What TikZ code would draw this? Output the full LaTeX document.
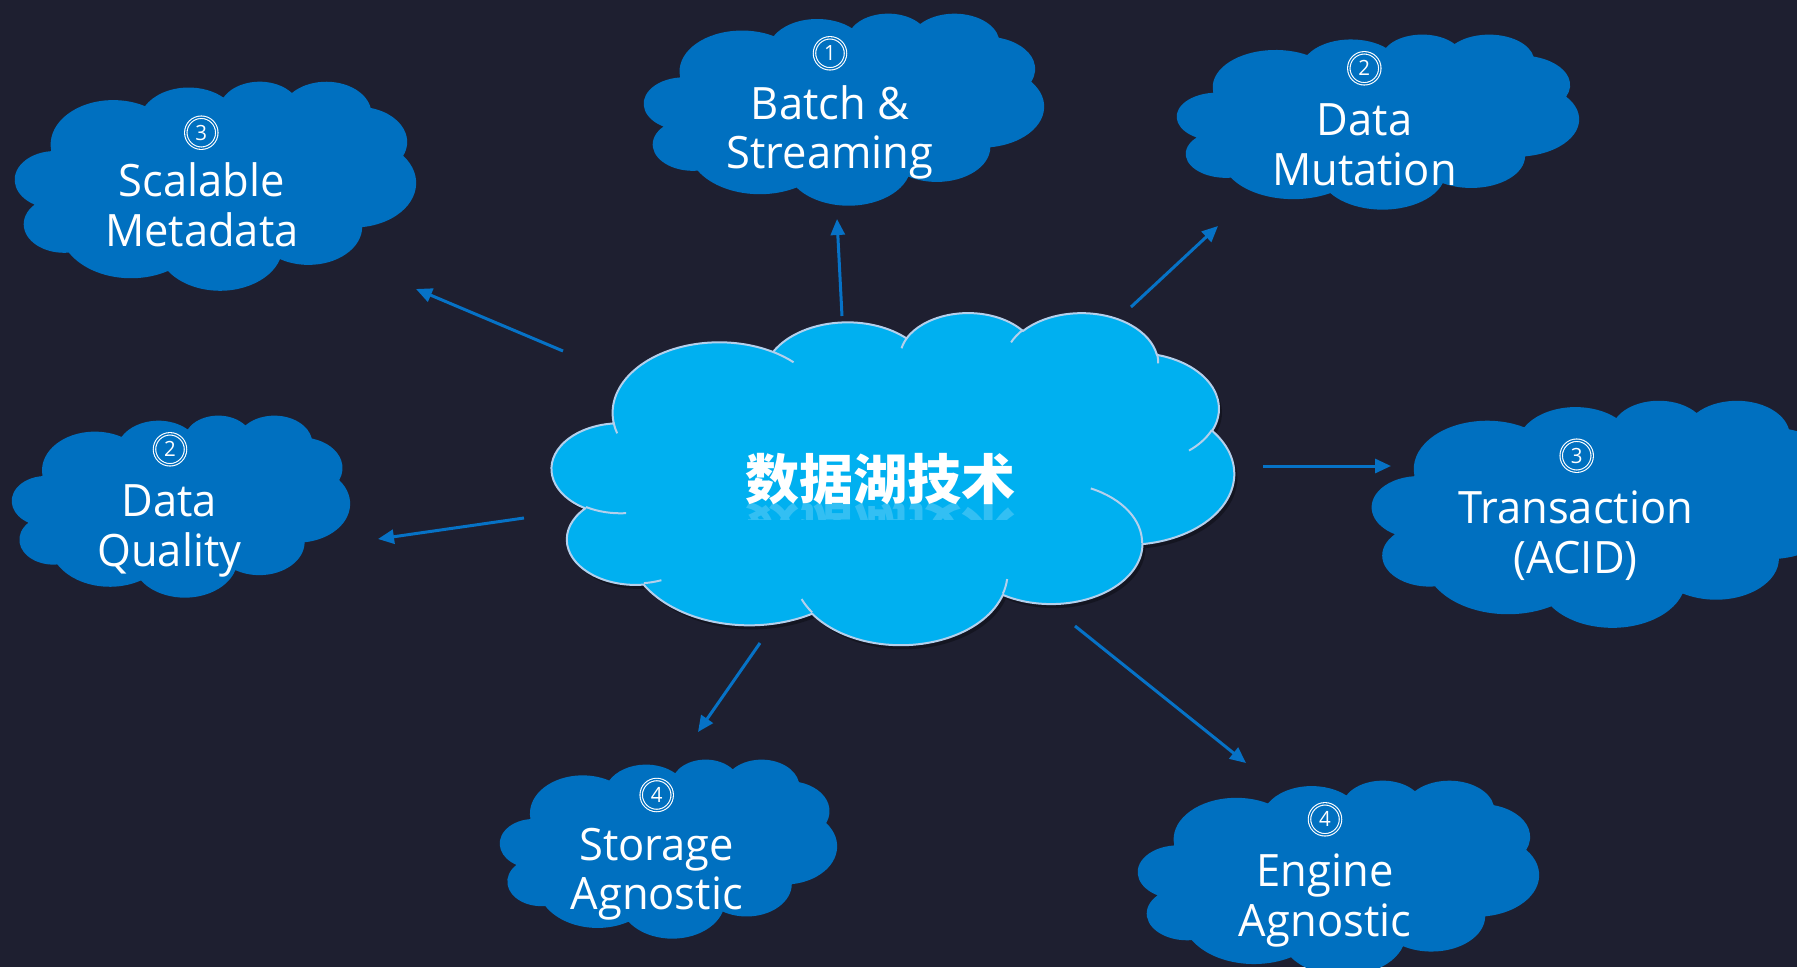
\documentclass[tikz,border=0pt]{standalone}
\usepackage{fontspec}
\setmainfont{Open Sans}[FakeStretch=0.975]
\newfontfamily\cjk{Noto Sans CJK SC}
\usetikzlibrary{arrows.meta}
\definecolor{bgnavy}{HTML}{1E1F30}
\definecolor{cloudblue}{HTML}{0070C0}
\definecolor{skyfill}{HTML}{00B0F0}
\definecolor{rimcol}{HTML}{B4D0EC}
\definecolor{arrowblue}{HTML}{0672C6}

% DrawingML arcTo (visual angles) -> TikZ parametric arcs
\newcommand\arcpre[5]{%
  \pgfmathsetmacro\tmpa{atan2((#2)*sin(#4),(#3)*cos(#4))}%
  \pgfmathsetmacro\tmpb{atan2((#2)*sin(#4+#5),(#3)*cos(#4+#5))}%
  \pgfmathsetmacro\tmpd{\tmpb-\tmpa}%
  \pgfmathsetmacro\tmpd{\tmpd<0 ? \tmpd+360 : \tmpd}%
  \expandafter\xdef\csname arcS#1\endcsname{\tmpa}%
  \expandafter\xdef\csname arcD#1\endcsname{\tmpd}%
  \expandafter\xdef\csname arcX#1\endcsname{#2}%
  \expandafter\xdef\csname arcY#1\endcsname{#3}}
\arcpre{1}{67.53}{91.90}{-190.48748}{123.78053}
\arcpre{2}{53.33}{72.67}{-144.10238}{89.94523}
\arcpre{3}{43.65}{59.45}{-145.80792}{99.72302}
\arcpre{4}{48.57}{65.95}{-130.98607}{117.24173}
\arcpre{5}{53.33}{72.73}{-78.70888}{109.02692}
\arcpre{6}{67.75}{92.20}{-46.26725}{130.269}
\arcpre{7}{57.85}{78.67}{0.62502}{114.03333}
\arcpre{8}{67.52}{92.15}{22.4516}{115.17255}
\arcpre{9}{77.20}{105.43}{66.24263}{75.71102}
\arcpre{10}{43.60}{59.18}{-274.94208}{146.73557}
\arcpre{11}{43.45}{59.45}{-246.8285}{152.51885}
\arcpre{a}{43.45}{59.45}{86.742}{26.4295}
\arcpre{b}{43.60}{59.18}{73.61047}{11.44747}
\arcpre{c}{67.52}{92.15}{137.62415}{14.0811}
\arcpre{d}{67.52}{92.15}{6.45327}{15.99835}
\arcpre{e}{57.85}{78.67}{-70.29235}{70.91737}
\arcpre{f}{53.33}{72.73}{30.31803}{27.7515}
\arcpre{g}{48.57}{65.95}{-13.74433}{14.8589}
\arcpre{h}{48.57}{65.95}{-149.18145}{18.19537}
\arcpre{i}{43.65}{59.45}{-163.49427}{17.68635}
\arcpre{j}{67.53}{91.90}{-66.70695}{12.31935}
\arcpre{k}{67.53}{91.90}{157.65435}{11.85817}

\newcommand\carc[1]{arc[start angle=\csname arcS#1\endcsname, delta angle=\csname arcD#1\endcsname, x radius=\csname arcX#1\endcsname, y radius=\csname arcY#1\endcsname]}
\newcommand\cloudpath{(39.00,143.70) \carc{1} \carc{2} \carc{3} \carc{4} \carc{5} \carc{6} \carc{7} \carc{8} \carc{9} \carc{10} \carc{11} -- cycle}
\newcommand\cloudinner{(46.93,261.77) \carc{a} (69.28,348.99) \carc{b} (164.78,390.90) \carc{c} (288.27,347.51) \carc{d} (341.29,229.54) \carc{e} (417.98,153.54) \carc{f} (383.24,54.26) \carc{g} (290.78,39.52) \carc{h} (221.41,47.20) \carc{i} (140.00,51.92) \carc{j} (41.27,157.89) \carc{k}}

% #1 x, #2 y, #3 w, #4 h, #5 style
\newcommand\cloudat[5]{%
  \pgfmathsetmacro\cwu{#3/432}\pgfmathsetmacro\chu{#4/432}%
  \begin{scope}[shift={(#1,#2)}, x=\cwu pt, y=-\chu pt]
    \path[#5] \cloudpath;
  \end{scope}}
\newcommand\cloudarcsat[5]{%
  \pgfmathsetmacro\cwu{#3/432}\pgfmathsetmacro\chu{#4/432}%
  \begin{scope}[shift={(#1,#2)}, x=\cwu pt, y=-\chu pt]
    \path[#5] \cloudinner;
  \end{scope}}

\begin{document}
\begin{tikzpicture}[x=1pt,y=-1pt,
  smallcloud/.style={fill=cloudblue},
  bigcloud/.style={fill=skyfill, draw=rimcol, line width=2pt, line join=round},
  innerarc/.style={draw=rimcol, line width=2pt},
  cloudshadow/.style={fill=black, opacity=0.3},
  conn/.style={draw=arrowblue, line width=3pt, -{Triangle[length=16pt,width=14pt]}},
  lbl/.style={text=white, font=\fontsize{44.6}{49}\selectfont, anchor=base, inner sep=0pt},
  ring/.style={circle, draw=white, double=cloudblue, line width=1.1pt, double distance=1.3pt,
    minimum size=31pt, inner sep=0pt, text=white, font=\fontsize{21}{21}\selectfont},
  title/.style={anchor=base, text=white, inner sep=0pt, font=\cjk\bfseries\fontsize{54}{60}\selectfont}]
\useasboundingbox (0,0) rectangle (1797,967);
\clip (0,0) rectangle (1797,967);
\fill[bgnavy] (0,0) rectangle (1797,967);

% central cloud
\cloudat{555}{316}{682}{332}{cloudshadow}
\cloudat{552}{312}{682}{332}{bigcloud}
\cloudarcsat{552}{312}{682}{332}{innerarc}
\node[title] (title) at (880.8,499) {数据湖技术};
\begin{scope}
  \clip (700,503) rectangle (1060,519);
  \node[title, yscale=-1, opacity=0.2] (titlerefl) at (880.8,507) {数据湖技术};
\end{scope}

% satellite clouds
\cloudat{644}{13}{400}{192}{smallcloud}
\cloudat{1177}{34}{402}{175}{smallcloud}
\cloudat{15}{81}{401}{209}{smallcloud}
\cloudat{12}{415}{338}{182}{smallcloud}
\cloudat{1372}{400}{470}{227}{smallcloud}
\cloudat{500}{759}{337}{179}{smallcloud}
\cloudat{1138}{780}{401}{195}{smallcloud}

% labels
\node[ring] (n1) at (830,53.3) {1};
\node[lbl] (batch1) at (830,119) {Batch \&};
\node[lbl] (batch2) at (830,168) {Streaming};

\node[ring] (n2) at (1364.3,68.3) {2};
\node[lbl] (mut1) at (1364.5,135) {Data};
\node[lbl] (mut2) at (1364.5,185) {Mutation};

\node[ring] (n3) at (201.3,132.7) {3};
\node[lbl] (scal1) at (201.8,196.7) {Scalable};
\node[lbl] (scal2) at (201.8,246.7) {Metadata};

\node[ring] (n4) at (170,449.3) {2};
\node[lbl] (qual1) at (169.3,516.7) {Data};
\node[lbl] (qual2) at (169.3,566.7) {Quality};

\node[ring] (n5) at (1576.7,455.7) {3};
\node[lbl] (tran1) at (1575.8,523.3) {Transaction};
\node[lbl] (tran2) at (1575.8,573.3) {(ACID)};

\node[ring] (n6) at (656.7,795) {4};
\node[lbl] (stor1) at (656.7,860) {Storage};
\node[lbl] (stor2) at (656.7,909.3) {Agnostic};

\node[ring] (n7) at (1325,819.3) {4};
\node[lbl] (eng1) at (1325,886.7) {Engine};
\node[lbl] (eng2) at (1325,936.7) {Agnostic};

% connectors
\coordinate (batchT) at (842,316);   \coordinate (batchH) at (837,219);
\coordinate (mutT) at (1131,307);    \coordinate (mutH) at (1218,226);
\coordinate (scalT) at (563,351);    \coordinate (scalH) at (416,289);
\coordinate (qualT) at (524,518);    \coordinate (qualH) at (378,539);
\coordinate (tranT) at (1263,466);   \coordinate (tranH) at (1391,466);
\coordinate (storT) at (760,643);    \coordinate (storH) at (698,732);
\coordinate (engT) at (1075,626);    \coordinate (engH) at (1246,763);
\draw[conn] (batchT) -- (batchH);
\draw[conn] (mutT) -- (mutH);
\draw[conn] (scalT) -- (scalH);
\draw[conn] (qualT) -- (qualH);
\draw[conn] (tranT) -- (tranH);
\draw[conn] (storT) -- (storH);
\draw[conn] (engT) -- (engH);
\end{tikzpicture}
\end{document}
